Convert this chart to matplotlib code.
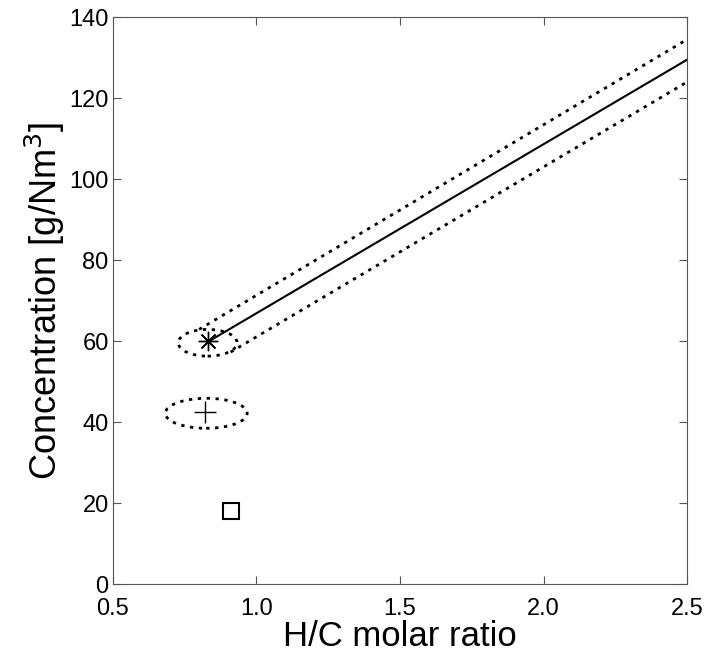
import matplotlib.pyplot as plt
from matplotlib.patches import Ellipse

plt.rcParams['font.family'] = ['Liberation Sans', 'DejaVu Sans']

# fitted line and its confidence band
line_x = [0.83, 2.5]
line_y = [59.8, 129.5]
upper_x = [0.80, 2.5]
upper_y = [62.9, 134.5]
lower_x = [0.91, 2.5]
lower_y = [57.3, 124.0]

# confidence ellipses (center x, center y, width, height)
ell_1 = (0.83, 59.6, 0.205, 6.6)
ell_2 = (0.825, 42.2, 0.285, 7.4)

# measured points
star_x, star_y = 0.83, 60.0
plus_x, plus_y = 0.82, 42.5
square_x, square_y = 0.91, 18.0

fig = plt.figure(figsize=(7.1, 6.55), dpi=100)
ax = fig.add_axes([0.159, 0.108, 0.809, 0.866])

dot = (0, (1.2, 2.0))
ax.plot(line_x, line_y, color='k', lw=1.5)
ax.plot(upper_x, upper_y, color='k', lw=2, linestyle=dot)
ax.plot(lower_x, lower_y, color='k', lw=2, linestyle=dot)
for cx, cy, w, h in [ell_1, ell_2]:
    ax.add_patch(Ellipse((cx, cy), w, h, fill=False, edgecolor='k', lw=2, linestyle=dot))

ax.plot(star_x, star_y, marker=(8, 2, 0), color='k', markersize=14, mew=1)
ax.plot(plus_x, plus_y, marker='+', color='k', markersize=16, mew=1)
ax.plot(square_x, square_y, marker='s', color='k', mfc='white', markersize=11, mew=1.5)

ax.set_xlim(0.5, 2.5)
ax.set_ylim(0, 140)
ax.set_xticks([0.5, 1.0, 1.5, 2.0, 2.5])
ax.set_xticklabels(['0.5', '1.0', '1.5', '2.0', '2.5'])
ax.set_yticks(range(0, 141, 20))
ax.tick_params(direction='in', top=True, right=True, labelsize=17, length=6, color='#555555')
ax.tick_params(axis='x', pad=10)
ax.tick_params(axis='y', pad=3)
for s in ax.spines.values():
    s.set_color('#555555')

ax.set_xlabel('H/C molar ratio', fontsize=25, labelpad=0)
ax.set_ylabel('Concentration [g/Nm$^3$]', fontsize=26, labelpad=2)

fig.savefig('out.png', dpi=100)
